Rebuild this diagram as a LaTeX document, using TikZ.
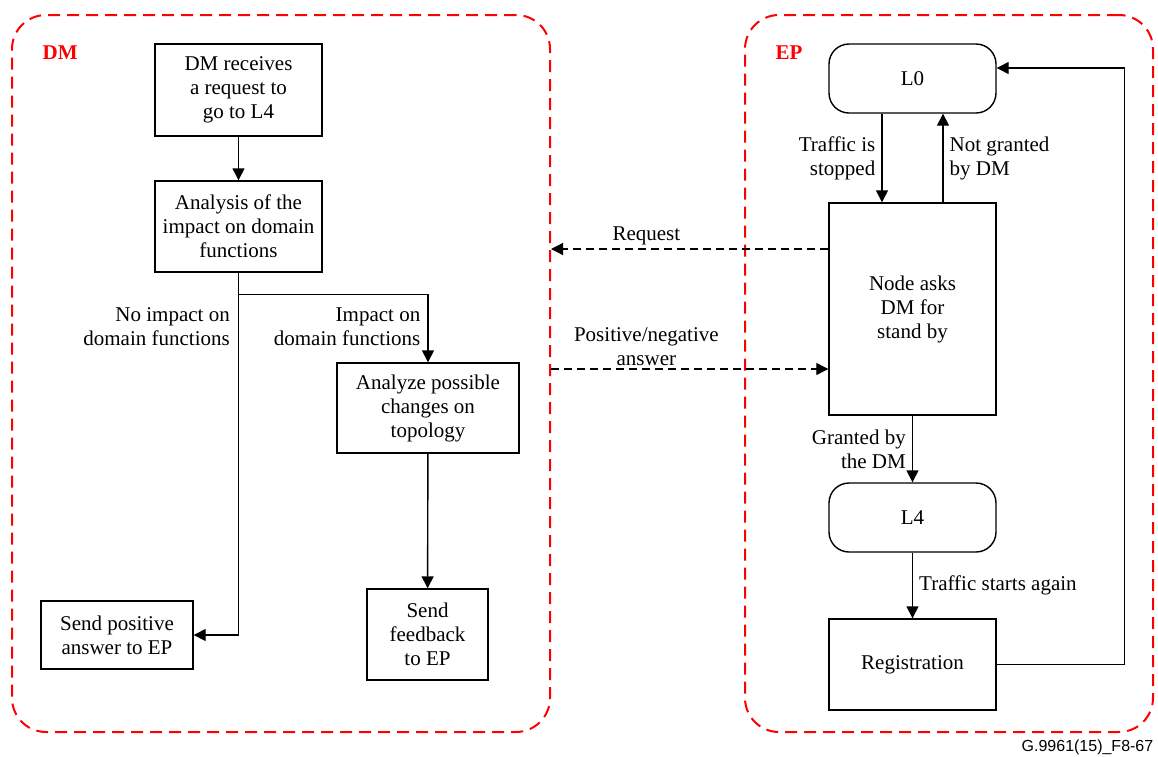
\documentclass[tikz,border=0pt]{standalone}
\usepackage{fontspec}
\setmainfont{Liberation Serif}
\newfontfamily\figidfont{Liberation Sans}
\usetikzlibrary{arrows.meta}

\begin{document}
\begin{tikzpicture}[x=.5pt,y=-.5pt,line width=.7pt,font=\fontsize{10.5}{12}\selectfont,
  zone/.style={draw=red,line width=1pt,dash pattern=on 6pt off 3.5pt,rounded corners=17pt,inner sep=0pt},
  zonetitle/.style={text=red,font=\fontsize{10.5}{12}\selectfont\bfseries,anchor=west,inner sep=0pt},
  stepbox/.style={draw,align=center,inner sep=2pt,minimum width=83.5pt},
  statebox/.style={draw,rounded corners=10pt,align=center,minimum width=83.5pt,minimum height=34.5pt},
  arr/.style={-{Triangle[length=6pt,width=6pt]}},
  msg/.style={arr,line width=.6pt,dash pattern=on 4pt off 2.5pt},
  lbl/.style={inner sep=3pt,align=center}]
\useasboundingbox (0,0) rectangle (1158,756);

% domains
\node[zone,minimum width=269pt,minimum height=358.5pt] (dmzone) at (281,373.5) {};
\node[zone,minimum width=204pt,minimum height=358.5pt] (epzone) at (949,373.5) {};
\node[zonetitle] (dmtitle) at (42,53) {DM};
\node[zonetitle] (eptitle) at (775,53) {EP};

% DM side
\node[stepbox,minimum height=46pt] (request) at (238.5,90) {DM receives\\a request to\\go to L4};
\node[stepbox,minimum height=45.5pt] (analysis) at (238.5,226.5) {Analysis of the\\impact on domain\\functions};
\node[stepbox,minimum width=91pt,minimum height=45pt] (topology) at (428,408) {Analyze possible\\changes on\\topology};
\node[stepbox,minimum width=60.5pt,minimum height=45.5pt] (feedback) at (427.5,634.5) {Send\\feedback\\to EP};
\node[stepbox,minimum width=76pt,minimum height=34pt] (positive) at (117,635) {Send positive\\answer to EP};

\draw[arr] (request) -- (analysis);
\draw[arr] (analysis.south) |- (positive.east);
\draw[arr] (analysis.south) -- ++(0,22) coordinate (split) -| (topology.north);
\node[lbl,anchor=north east,align=right] (noimpact) at ([xshift=-1pt,yshift=-3pt]split) {No impact on\\domain functions};
\node[lbl,anchor=north east,align=right] (impact) at ([xshift=-.5pt,yshift=-3pt]topology.north |- split) {Impact on\\domain functions};
\draw[arr] (topology) -- (feedback);

% EP side
\node[statebox] (lzero) at (912.5,78.5) {L0};
\node[stepbox,minimum height=106pt] (asks) at (912.5,309) {Node asks\\DM for\\stand by};
\node[statebox] (lfour) at (912.5,517.5) {L4};
\node[stepbox,minimum height=45.5pt] (registration) at (912.5,664.5) {Registration};

\draw[arr] ([xshift=-15.25pt]lzero.south) -- node[lbl,anchor=east,align=right] {Traffic is\\stopped} ([xshift=-15.25pt]asks.north);
\draw[arr] ([xshift=15.25pt]asks.north) -- node[lbl,anchor=west,align=left] {Not granted\\by DM} ([xshift=15.25pt]lzero.south);
\draw[arr] (asks) -- node[lbl,anchor=east,align=right] {Granted by\\the DM} (lfour);
\draw[arr] (lfour) -- node[lbl,anchor=west] {Traffic starts again} (registration);
\draw[arr] (registration.east) -- ++(128,0) |- ([yshift=5.25pt]lzero.east);

% messages between DM and EP
\draw[msg] ([yshift=30pt]asks.west) -- node[lbl,inner sep=1.5pt,pos=.656,anchor=south] {Request} ([yshift=30pt]asks.west -| dmzone.east);
\draw[msg] ([yshift=-30pt]asks.west -| dmzone.east) -- node[lbl,inner sep=1.5pt,pos=.344,anchor=south] {Positive/negative\\answer} ([yshift=-30pt]asks.west);

\node[font=\figidfont\fontsize{8}{9.6}\selectfont,anchor=east,inner sep=0pt] (figid) at (1154,747) {G.9961(15)\_F8-67};
\end{tikzpicture}
\end{document}
